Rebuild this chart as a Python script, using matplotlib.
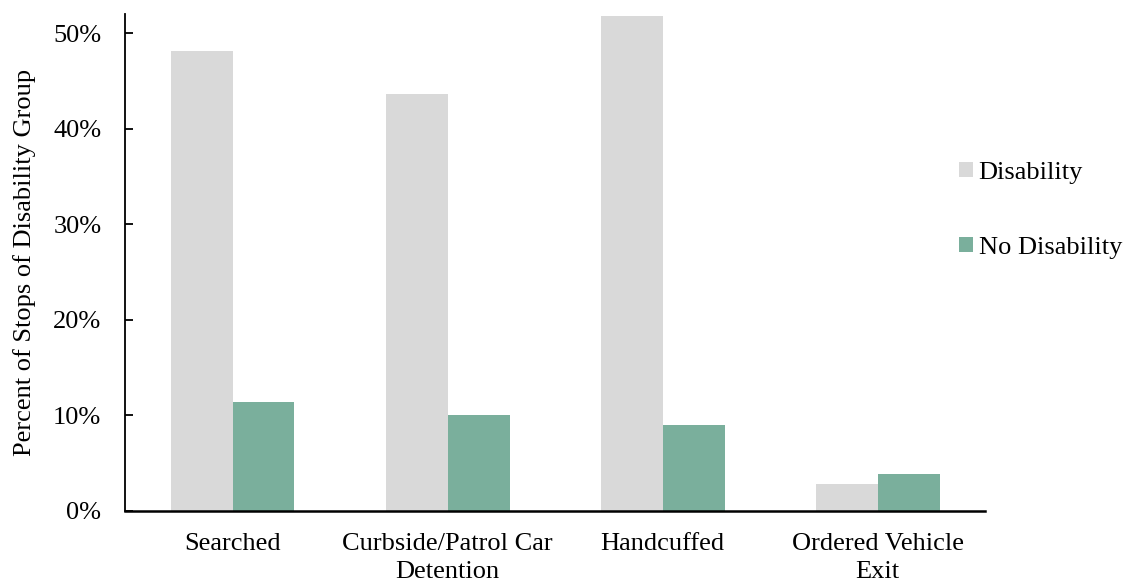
import matplotlib.pyplot as plt
import numpy as np
from matplotlib.ticker import PercentFormatter

categories = ['Searched', 'Curbside/Patrol Car\nDetention', 'Handcuffed', 'Ordered Vehicle\nExit']
disability = [48.1, 43.6, 51.8, 2.8]
no_disability = [11.4, 10.0, 9.0, 3.9]

plt.rcParams['font.family'] = ['Liberation Serif', 'DejaVu Serif']

fig = plt.figure(figsize=(11.26, 5.82), dpi=100)
ax = fig.add_axes([0.111, 0.122, 0.764, 0.854])

x = np.arange(len(categories))
w = 0.288
ax.bar(x - w / 2, disability, w, color='#d9d9d9', label='Disability')
ax.bar(x + w / 2, no_disability, w, color='#7aaf9c', label='No Disability')

ax.set_xlim(-0.5, 3.5)
ax.set_ylim(0, 52)
ax.set_yticks([0, 10, 20, 30, 40, 50])
ax.yaxis.set_major_formatter(PercentFormatter(decimals=0))
ax.set_xticks(x)
ax.set_xticklabels(categories, fontsize=19, linespacing=1.35, va='top')
ax.tick_params(axis='x', length=0, pad=16)
ax.tick_params(axis='y', labelsize=19, length=6, width=1.3, direction='in', pad=17)
ax.set_ylabel('Percent of Stops of Disability Group', fontsize=19, labelpad=12)

for s in ['top', 'right']:
    ax.spines[s].set_visible(False)
ax.spines['left'].set_linewidth(1.3)
ax.spines['bottom'].set_linewidth(1.8)

ax.legend(loc='upper left', bbox_to_anchor=(0.852, 0.722), bbox_transform=fig.transFigure,
          frameon=False, fontsize=19, borderpad=0, borderaxespad=0,
          handlelength=0.53, handleheight=0.53, handletextpad=0.2, labelspacing=2.0)

fig.savefig('out.png', dpi=100)
